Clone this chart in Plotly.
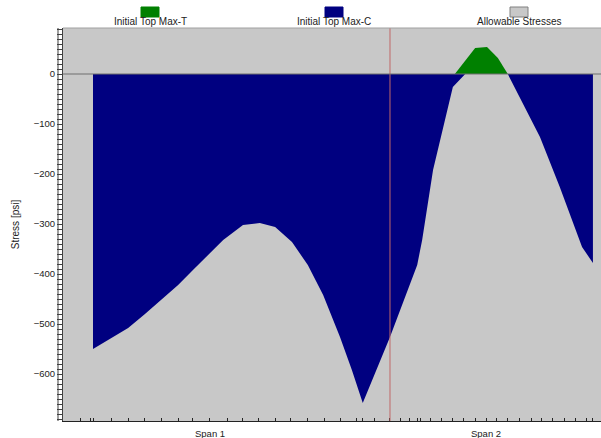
import plotly.graph_objects as go

# Analysis stations (ft) shown as x-axis ticks
stations = [-2.6, -0.6, 0.0, 3.8, 7.1, 10.5, 13.9, 17.2, 20.2, 23.6, 27.1, 30.3, 33.5,
            36.8, 40.0, 43.4, 46.7, 50.1, 53.3, 54.5, 56.8, 60.0, 62.2, 64.0, 65.5,
            66.1, 68.1, 70.5, 72.7, 74.8, 77.2, 79.4, 81.6, 83.8, 86.1, 88.5, 90.7,
            92.9, 95.2, 97.4, 99.6, 101.0]

# Initial Top Max-C (compression envelope), psi
x_maxc = [0.0, 3.8, 7.1, 10.5, 13.9, 17.2, 20.2, 23.6, 26.3, 30.3, 33.7, 36.8, 40.2,
          43.4, 46.5, 49.9, 52.3, 54.5, 60.0, 65.5, 66.5, 68.7, 70.7, 72.7, 75.2,
          83.8, 90.3, 94.3, 98.8, 101.0]
y_maxc = [-550, -528, -508, -480, -450, -422, -392, -358, -332, -302, -298, -306, -336,
          -382, -442, -526, -592, -658, -526, -382, -332, -192, -106, -26, 0,
          0, -126, -226, -346, -378]

# Initial Top Max-T (tension envelope), psi
x_maxt = [73.1, 77.2, 79.6, 81.8, 83.8]
y_maxt = [0, 52, 54, 32, 0]

span_labels = ["Span 1", "Span 2"]
span_label_x = [23.6, 79.4]
span_break = 60.0

legend_names = ["Initial Top Max-T", "Initial Top Max-C", "Allowable Stresses"]
legend_colors = ["#008000", "#000080", "#c8c8c8"]

W, H = 601, 438
ml, mr, mt, mb = 63, 0, 28, 17
FONT = "Liberation Sans, Arial, sans-serif"

fig = go.Figure()
fig.add_trace(go.Scatter(x=x_maxc, y=y_maxc, name=legend_names[1], mode="lines",
                         line=dict(width=0, color=legend_colors[1]),
                         fill="tozeroy", fillcolor=legend_colors[1], hoverinfo="skip"))
fig.add_trace(go.Scatter(x=x_maxt, y=y_maxt, name=legend_names[0], mode="lines",
                         line=dict(width=0, color=legend_colors[0]),
                         fill="tozeroy", fillcolor=legend_colors[0], hoverinfo="skip"))

pw = W - ml - mr
ph = H - mt - mb

shapes = []
# span break line
shapes.append(dict(type="line", xref="x", yref="paper", x0=span_break, x1=span_break,
                   y0=0, y1=1, line=dict(color="#c06868", width=1)))
# zero line across the plot
shapes.append(dict(type="line", xref="paper", yref="y", x0=0, x1=1, y0=0, y1=0,
                   line=dict(color="#6e6e6e", width=1)))
# top border
shapes.append(dict(type="line", xref="paper", yref="paper", x0=0, x1=1, y0=1, y1=1,
                   line=dict(color="#a0a0a0", width=1)))
# outer y-axis line
shapes.append(dict(type="line", xref="paper", yref="paper", x0=-5 / pw, x1=-5 / pw,
                   y0=0, y1=1, line=dict(color="#404040", width=1)))

annotations = []
# custom legend: swatch above text
leg_cx = [150, 334, 519]
for name, col, cx in zip(legend_names, legend_colors, leg_cx):
    x0 = (cx - 9 - ml) / pw
    x1 = (cx + 9 - ml) / pw
    y0 = (H - mb - 17) / ph
    y1 = (H - mb - 7) / ph
    shapes.append(dict(type="rect", xref="paper", yref="paper", x0=x0, x1=x1,
                       y0=y0, y1=y1, fillcolor=col,
                       line=dict(color="#808080" if col == "#c8c8c8" else col, width=1)))
    annotations.append(dict(text=name, xref="paper", yref="paper",
                            x=(cx - ml) / pw, y=(H - mb - 22) / ph,
                            showarrow=False, xanchor="center", yanchor="middle",
                            font=dict(family=FONT, size=10, color="#222")))

for lab, lx in zip(span_labels, span_label_x):
    annotations.append(dict(text=lab, xref="x", yref="paper", x=lx, y=0, yshift=-12,
                            showarrow=False, xanchor="center", yanchor="middle",
                            font=dict(family=FONT, size=9.5, color="#222")))

fig.update_layout(
    width=W, height=H,
    margin=dict(l=ml, r=mr, t=mt, b=mb, pad=0),
    paper_bgcolor="white", plot_bgcolor="#c8c8c8",
    showlegend=False,
    shapes=shapes, annotations=annotations,
    font=dict(family=FONT, size=9, color="#222"),
)
fig.update_xaxes(range=[-6.06, 102.63], showgrid=False, zeroline=False,
                 tickmode="array", tickvals=stations, showticklabels=False,
                 ticks="inside", ticklen=3, tickcolor="#222", tickwidth=1,
                 showline=True, linecolor="#222", linewidth=1)
fig.update_yaxes(range=[-694, 92], showgrid=False, zeroline=False,
                 tickmode="linear", tick0=0, dtick=100,
                 ticks="outside", ticklen=5, tickcolor="#404040",
                 minor=dict(dtick=10, ticks="outside", ticklen=5, tickcolor="#404040"),
                 showline=True, linecolor="#404040", linewidth=1,
                 tickfont=dict(family=FONT, size=9.5, color="#222"),
                 title=dict(text="Stress [psi]", font=dict(family=FONT, size=10, color="#222"),
                            standoff=12))

fig.write_html("out.html", config={"displayModeBar": False},
               post_script="document.body.style.margin='0px';document.body.style.overflow='hidden';")
